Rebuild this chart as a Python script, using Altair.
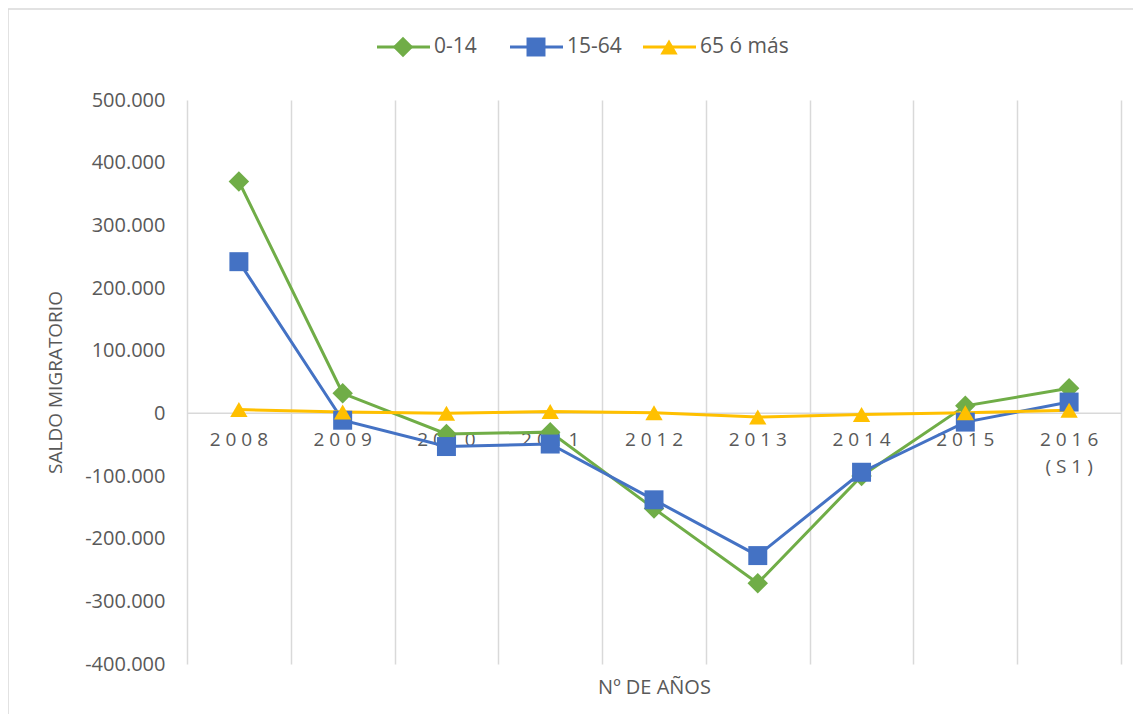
import altair as alt
import pandas as pd

# ---------------- data ----------------
years = ["2008", "2009", "2010", "2011", "2012", "2013", "2014", "2015", "2016\n(S1)"]
series_names = ["0-14", "15-64", "65 ó más"]
v_0_14 = [370000, 32000, -33000, -30000, -152000, -271000, -100000, 12000, 40000]
v_15_64 = [242000, -11000, -53000, -49000, -138000, -227000, -94000, -14000, 18000]
v_65 = [6000, 2000, 0, 3000, 1000, -6000, -2000, 1000, 5000]
y_ticks = list(range(-400000, 500001, 100000))

colors = ["#70AD47", "#4472C4", "#FFC000"]
shapes = ["diamond", "square", "triangle-up"]
marker_sizes = [420, 300, 300]
legend_marker_sizes = [330, 240, 240]

rows = []
for s, vals in zip(series_names, [v_0_14, v_15_64, v_65]):
    for i, (yr, v) in enumerate(zip(years, vals)):
        rows.append({"idx": i, "year": yr, "series": s, "value": v})
df = pd.DataFrame(rows)

cat_df = pd.DataFrame({
    "idx": list(range(len(years))),
    "zero": [0] * len(years),
    "label": ["\n".join(" ".join(part) for part in y.split("\n")) for y in years],
})
zero_df = pd.DataFrame({"zero": [0]})
leg_df = pd.DataFrame({"series": series_names})

GREY = "#595959"
GRID = "#d9d9d9"
FONT = "Open Sans"

# ---------------- scales / axes ----------------
x_scale = alt.Scale(domain=[-0.5, len(years) - 0.5], nice=False, zero=False)
y_scale = alt.Scale(domain=[min(y_ticks), max(y_ticks)], nice=False, zero=False)

x_axis = alt.Axis(
    values=[i - 0.5 for i in range(len(years) + 1)],
    labels=False, ticks=False, domain=False,
    grid=True, gridColor=GRID, gridWidth=1.5,
    title="Nº DE AÑOS", titlePadding=13, titleFontSize=20,
    titleFontWeight="normal", titleColor=GREY, titleFont=FONT,
)
y_axis = alt.Axis(
    values=y_ticks,
    labelExpr="replace(replace(format(datum.value, ','), /,/g, '.'), /\u2212/g, '-')",
    grid=False, domain=False, ticks=False, tickSize=0,
    labelPadding=22, labelFontSize=20, labelColor=GREY, labelFont=FONT,
    title="SALDO MIGRATORIO", titleFontSize=19, titleFontWeight="normal",
    titleColor=GREY, titleFont=FONT, titlePadding=19,
)

color_enc = alt.Color("series:N", scale=alt.Scale(domain=series_names, range=colors), legend=None)
shape_enc = alt.Shape("series:N", scale=alt.Scale(domain=series_names, range=shapes), legend=None)

X = alt.X("idx:Q", scale=x_scale, axis=x_axis)

zero_rule = alt.Chart(zero_df).mark_rule(color=GRID, strokeWidth=1.5).encode(
    y=alt.Y("zero:Q", scale=y_scale, axis=y_axis)
)

labels = alt.Chart(cat_df).mark_text(
    baseline="top", dy=18, fontSize=19, color=GREY, font=FONT,
    lineBreak="\n", lineHeight=27,
).encode(
    x=X,
    y=alt.Y("zero:Q", scale=y_scale, axis=y_axis),
    text="label:N",
)

lines = alt.Chart(df).mark_line(strokeWidth=3).encode(
    x=X,
    y=alt.Y("value:Q", scale=y_scale, axis=y_axis),
    color=color_enc,
)

points = alt.Chart(df).mark_point(filled=True, opacity=1).encode(
    x=X,
    y=alt.Y("value:Q", scale=y_scale, axis=y_axis),
    color=color_enc,
    shape=shape_enc,
    size=alt.Size("series:N", scale=alt.Scale(domain=series_names, range=marker_sizes), legend=None),
)

main = alt.layer(zero_rule, labels, lines, points)

# ---------------- legend (top) ----------------
leg_x = alt.X(
    "series:N",
    scale=alt.Scale(type="point", domain=series_names, range=[190, 456], padding=0),
    axis=None,
)
leg_y = alt.value(-53)

leg_rule = alt.Chart(leg_df).mark_rule(strokeWidth=3, x2Offset=53).encode(
    x=leg_x, x2="series:N", y=leg_y, color=color_enc
)
leg_point = alt.Chart(leg_df).mark_point(filled=True, opacity=1, xOffset=26).encode(
    x=leg_x, y=leg_y, color=color_enc, shape=shape_enc,
    size=alt.Size("series:N", scale=alt.Scale(domain=series_names, range=legend_marker_sizes), legend=None),
)
leg_text = alt.Chart(leg_df).mark_text(
    align="left", baseline="middle", xOffset=57, fontSize=21, color=GREY, font=FONT
).encode(x=leg_x, y=leg_y, text="series:N")

legend = alt.layer(leg_rule, leg_point, leg_text)

# ---------------- chart border ----------------
border = alt.Chart(zero_df).mark_rect(fillOpacity=0, stroke=GRID, strokeWidth=1.5).encode(
    x=alt.value(-179), x2=alt.value(1000), y=alt.value(-91), y2=alt.value(700)
)

chart = alt.layer(border, main, legend).resolve_scale(x="independent").properties(
    width=934,
    height=564,
    padding={"left": 179, "top": 92, "right": 12, "bottom": 50},
    autosize=alt.AutoSizeParams(type="none"),
    background="white",
).configure_view(stroke=None).configure_text(font=FONT)

chart.save("out.html", embed_options={"renderer": "svg", "actions": False})
